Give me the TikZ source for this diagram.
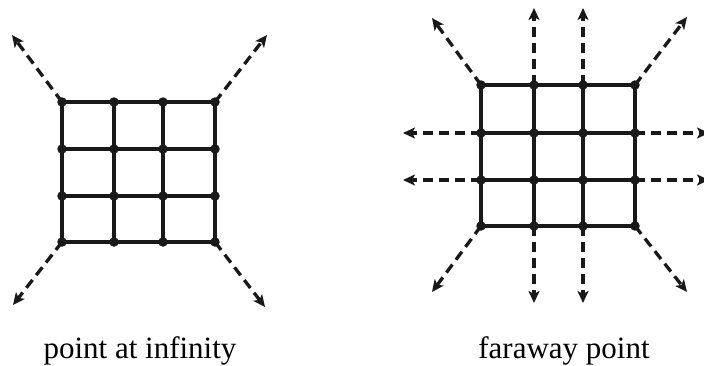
\documentclass[tikz,border=0pt]{standalone}
\usepackage{fontspec}
\setmainfont{Liberation Serif}
\usetikzlibrary{arrows.meta}
\begin{document}
\begin{tikzpicture}[x=1pt,y=-1pt,
  gridline/.style={line width=3.1pt,black!90},
  dotnode/.style={circle,fill=black!90,inner sep=0pt,minimum size=9.5pt},
  outarrow/.style={line width=3.3pt,black!90,dash pattern=on 10pt off 6pt,-{Stealth[length=12pt,width=11pt,inset=3pt]}},
  caption/.style={font=\fontsize{31}{36}\selectfont,anchor=base}]
\useasboundingbox (0,0) rectangle (704,365);
% left grid
\foreach \x [count=\i] in {62,114,163,215} {
  \foreach \y [count=\j] in {102,149,196,242} {
    \coordinate (L\i\j) at (\x,\y);
  }
}
\foreach \i in {1,...,4} {
  \draw[gridline] (L\i1) -- (L\i4);
  \draw[gridline] (L1\i) -- (L4\i);
}
\foreach \i in {1,...,4} \foreach \j in {1,...,4} \node[dotnode] (Ld\i\j) at (L\i\j) {};
\coordinate (LtTL) at (12,35);
\coordinate (LtTR) at (267,35);
\coordinate (LtBL) at (13,305);
\coordinate (LtBR) at (265,307);
\draw[outarrow] (L11) -- (LtTL);
\draw[outarrow] (L41) -- (LtTR);
\draw[outarrow] (L14) -- (LtBL);
\draw[outarrow] (L44) -- (LtBR);
% right grid
\foreach \x [count=\i] in {481,534,583,635} {
  \foreach \y [count=\j] in {85,133,180,226} {
    \coordinate (R\i\j) at (\x,\y);
  }
}
\foreach \i in {1,...,4} {
  \draw[gridline] (R\i1) -- (R\i4);
  \draw[gridline] (R1\i) -- (R4\i);
}
\foreach \i in {1,...,4} \foreach \j in {1,...,4} \node[dotnode] (Rd\i\j) at (R\i\j) {};
\coordinate (RtTL) at (432,18);
\coordinate (RtTR) at (687,17);
\coordinate (RtBL) at (432,292);
\coordinate (RtBR) at (687,292);
\coordinate (RtT2) at (534,8);
\coordinate (RtT3) at (583,8);
\coordinate (RtB2) at (534,303);
\coordinate (RtB3) at (583,303);
\coordinate (RtL2) at (403,133);
\coordinate (RtL3) at (403,180);
\coordinate (RtR2) at (709,133);
\coordinate (RtR3) at (709,180);
\draw[outarrow] (R11) -- (RtTL);
\draw[outarrow] (R41) -- (RtTR);
\draw[outarrow] (R14) -- (RtBL);
\draw[outarrow] (R44) -- (RtBR);
\draw[outarrow] (R21) -- (RtT2);
\draw[outarrow] (R31) -- (RtT3);
\draw[outarrow] (R24) -- (RtB2);
\draw[outarrow] (R34) -- (RtB3);
\draw[outarrow] (R12) -- (RtL2);
\draw[outarrow] (R13) -- (RtL3);
\draw[outarrow] (R42) -- (RtR2);
\draw[outarrow] (R43) -- (RtR3);
% captions
\node[caption] (capL) at (140,358) {point at infinity};
\node[caption] (capR) at (564,358) {faraway point};
\end{tikzpicture}
\end{document}
